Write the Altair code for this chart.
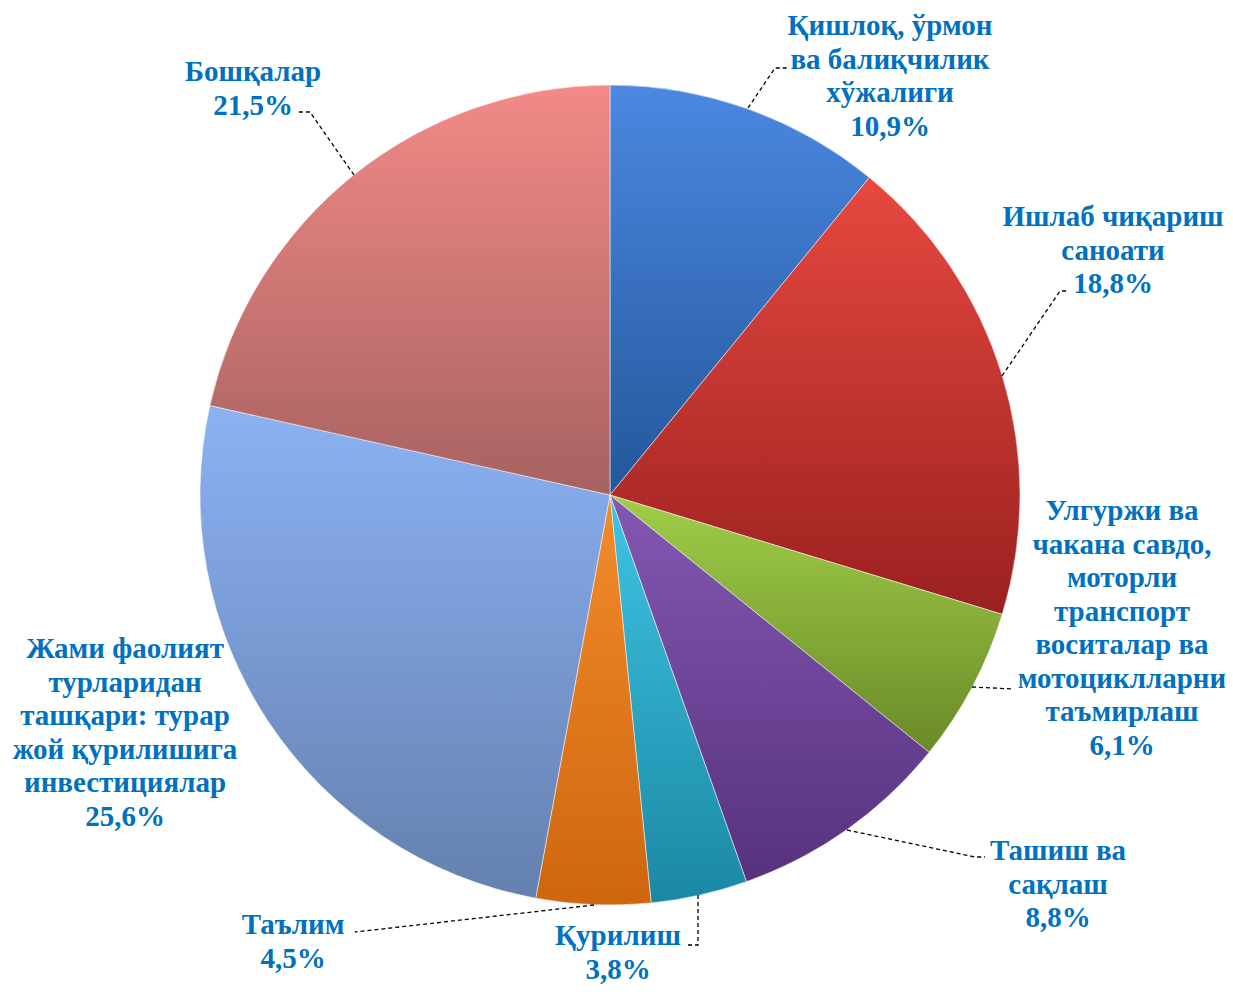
import altair as alt
import pandas as pd

# ---- data ----
categories = [
    "Қишлоқ, ўрмон ва балиқчилик хўжалиги",
    "Ишлаб чиқариш саноати",
    "Улгуржи ва чакана савдо, моторли транспорт воситалар ва мотоциклларни таъмирлаш",
    "Ташиш ва сақлаш",
    "Қурилиш",
    "Таълим",
    "Жами фаолият турларидан ташқари: турар жой қурилишига инвестициялар",
    "Бошқалар",
]
values = [10.9, 18.8, 6.1, 8.8, 3.8, 4.5, 25.6, 21.5]
value_labels = ["10,9%", "18,8%", "6,1%", "8,8%", "3,8%", "4,5%", "25,6%", "21,5%"]
label_lines = [
    ["Қишлоқ, ўрмон", "ва балиқчилик", "хўжалиги"],
    ["Ишлаб чиқариш", "саноати"],
    ["Улгуржи ва", "чакана савдо,", "моторли", "транспорт", "воситалар ва", "мотоциклларни", "таъмирлаш"],
    ["Ташиш ва", "сақлаш"],
    ["Қурилиш"],
    ["Таълим"],
    ["Жами фаолият", "турларидан", "ташқари: турар", "жой қурилишига", "инвестициялар"],
    ["Бошқалар"],
]

# ---- styles / layout ----
W, H = 1217, 979
CX, CY, R = 602, 487, 410
top_colors = ["#4C88E2", "#E6493F", "#A0CE48", "#8458B2", "#40C4E4", "#F28C2A", "#8CB2F4", "#F28A88"]
bot_colors = ["#23579A", "#9A2020", "#6A8A28", "#57317E", "#1A88A4", "#CE6610", "#6480AE", "#A66260"]
# first-line centre of each label block
label_x = [882, 1105, 1114, 1050, 610, 285, 117, 245]
label_y = [18, 209, 503, 843, 928, 917, 641, 64]
leader_x = [[740, 767, 780], [994, 1052, 1060], [964, 1005], [839, 967, 977],
            [690, 690, 679], [586, 347], [], [346, 302, 290]]
leader_y = [[100, 60, 60], [368, 283, 283], [679, 681], [822, 849, 849],
            [887, 937, 937], [897, 924], [], [167, 104, 104]]

df = pd.DataFrame({"cat": categories, "value": values, "idx": list(range(len(values)))})
df["end"] = df["value"].cumsum()
df["start"] = df["end"] - df["value"]

labels_df = pd.DataFrame({
    "text": ["\n".join(l + [v]) for l, v in zip(label_lines, value_labels)],
    "x": label_x, "y": label_y,
})
rows = []
for i, (xs, ys) in enumerate(zip(leader_x, leader_y)):
    for j, (a, b) in enumerate(zip(xs, ys)):
        rows.append({"line": i, "ord": j, "x": a, "y": b})
leader_df = pd.DataFrame(rows)

theta_scale = alt.Scale(domain=[0, 100], range=[0, 6.283185307])
xs = alt.Scale(domain=[0, W], nice=False, zero=False)
ys = alt.Scale(domain=[0, H], nice=False, zero=False, reverse=True)

layers = []
for i in range(len(values)):
    grad = alt.LinearGradient(
        gradient="linear", x1=0, y1=0, x2=0, y2=1,
        stops=[alt.GradientStop(color=top_colors[i], offset=0),
               alt.GradientStop(color=bot_colors[i], offset=1)],
    )
    layers.append(
        alt.Chart(df).transform_filter(alt.datum.idx == i)
        .mark_arc(color=grad, outerRadius=R, stroke="#ffffff", strokeWidth=1, strokeOpacity=0.5)
        .encode(
            theta=alt.Theta("start:Q", scale=theta_scale),
            theta2="end:Q",
            x=alt.value(CX), y=alt.value(CY),
        )
    )

leaders = alt.Chart(leader_df).mark_line(color="black", strokeDash=[4, 3], strokeWidth=1.3).encode(
    x=alt.X("x:Q", scale=xs, axis=None),
    y=alt.Y("y:Q", scale=ys, axis=None),
    detail="line:N",
    order="ord:Q",
)

texts = alt.Chart(labels_df).mark_text(
    font="Liberation Serif", fontWeight="bold", fontSize=29, color="#0070C0",
    lineBreak="\n", lineHeight=33.5, align="center", baseline="middle",
).encode(
    x=alt.X("x:Q", scale=xs, axis=None),
    y=alt.Y("y:Q", scale=ys, axis=None),
    text="text:N",
)

chart = alt.layer(*layers, leaders, texts).properties(
    width=W, height=H, padding=0,
    autosize=alt.AutoSizeParams(type="none"),
).configure_view(stroke=None)

chart.save("out.html", embed_options={"renderer": "svg", "actions": False})
